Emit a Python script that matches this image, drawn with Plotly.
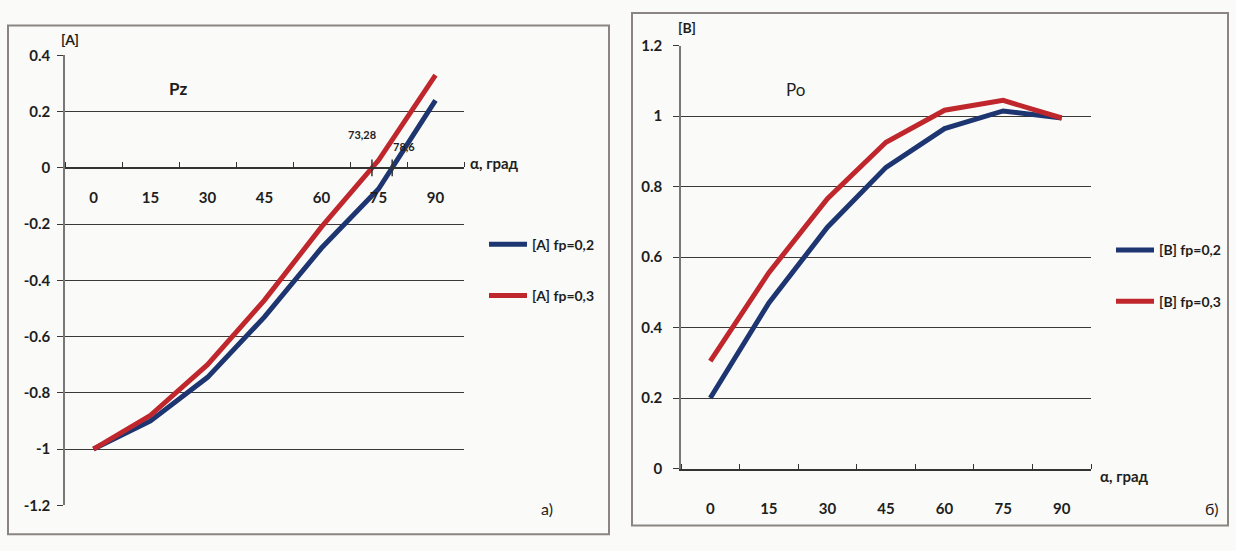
import plotly.graph_objects as go

W, H = 1236, 551

# ---------------- data ----------------
angles = [0, 15, 30, 45, 60, 75, 90]
angle_labels = ["0", "15", "30", "45", "60", "75", "90"]

pz_fp02 = [-1.0, -0.90, -0.745, -0.53, -0.285, -0.075, 0.24]
pz_fp03 = [-1.0, -0.88, -0.70, -0.47, -0.21, 0.027, 0.33]

po_fp02 = [0.20, 0.47, 0.685, 0.855, 0.965, 1.015, 0.995]
po_fp03 = [0.305, 0.556, 0.766, 0.926, 1.017, 1.045, 0.995]

zero_cross = [73.28, 78.6]
zero_cross_labels = ["73,28", "78,6"]

pz_yticks = [-1.2, -1.0, -0.8, -0.6, -0.4, -0.2, 0, 0.2, 0.4]
pz_ytext = ["-1.2", "-1", "-0.8", "-0.6", "-0.4", "-0.2", "0", "0.2", "0.4"]
po_yticks = [0, 0.2, 0.4, 0.6, 0.8, 1.0, 1.2]
po_ytext = ["0", "0.2", "0.4", "0.6", "0.8", "1", "1.2"]

# ---------------- helpers ----------------
def px(x):
    return x / W

def py(y):
    return 1 - y / H

FONT = "Lato, Liberation Sans, sans-serif"
TXT = "#1e1e1e"
BLUE = "#1d3570"
RED = "#c0272d"
GRID = "#3b3835"

# left panel geometry
L_x = [px(65), px(464)]
L_y = [py(512), py(47)]
L_yr = [-1.2, 0.4]
zero_pos = L_y[0] + (0 - L_yr[0]) / (L_yr[1] - L_yr[0]) * (L_y[1] - L_y[0])

# right panel geometry
R_x = [px(681), px(1091)]
R_y = [py(474), py(37)]

fig = go.Figure()

fig.add_trace(go.Scatter(x=angles, y=pz_fp02, mode="lines", name="[A] fp=0,2",
                         line=dict(color=BLUE, width=5), xaxis="x", yaxis="y",
                         legend="legend", legendgroup="a1"))
fig.add_trace(go.Scatter(x=angles, y=pz_fp03, mode="lines", name="[A] fp=0,3",
                         line=dict(color=RED, width=5), xaxis="x", yaxis="y",
                         legend="legend", legendgroup="a2"))
fig.add_trace(go.Scatter(x=zero_cross, y=[0] * len(zero_cross), mode="markers",
                         marker=dict(symbol="line-ns", size=12,
                                     line=dict(color="#333", width=1.5)),
                         showlegend=False, xaxis="x", yaxis="y", hoverinfo="skip"))

fig.add_trace(go.Scatter(x=angles, y=po_fp02, mode="lines", name="[B] fp=0,2",
                         line=dict(color=BLUE, width=5), xaxis="x2", yaxis="y2",
                         legend="legend2", legendgroup="b1"))
fig.add_trace(go.Scatter(x=angles, y=po_fp03, mode="lines", name="[B] fp=0,3",
                         line=dict(color=RED, width=5), xaxis="x2", yaxis="y2",
                         legend="legend2", legendgroup="b2"))

tickfont = dict(family=FONT, size=15, color=TXT, weight="bold")

common_x = dict(range=[-7.5, 97.5], tickmode="array", tickvals=angles,
                ticktext=angle_labels, ticks="", showgrid=False, zeroline=False,
                showline=True, linecolor="#333", linewidth=1.5, tickfont=tickfont,
                minor=dict(tick0=-7.5, dtick=15, ticks="inside", ticklen=5,
                           tickcolor="#333", tickwidth=1.2, showgrid=False))

fig.update_layout(
    width=W, height=H,
    margin=dict(l=0, r=0, t=0, b=0),
    paper_bgcolor="#fafaf8", plot_bgcolor="rgba(0,0,0,0)",
    font=dict(family=FONT, color=TXT),
    xaxis=dict(domain=L_x, anchor="free", position=zero_pos,
               ticklabelstandoff=16, **common_x),
    yaxis=dict(domain=L_y, range=L_yr, anchor="x", tickmode="array",
               tickvals=pz_yticks, ticktext=pz_ytext, showgrid=True,
               gridcolor=GRID, gridwidth=1.3, zeroline=False, showline=True,
               linecolor="#777", linewidth=1.5, ticks="outside", ticklen=6,
               tickcolor=GRID, tickfont=tickfont, ticklabelstandoff=4),
    xaxis2=dict(domain=R_x, anchor="y2", ticklabelstandoff=26, **common_x),
    yaxis2=dict(domain=R_y, range=[0, 1.2], anchor="x2", tickmode="array",
                tickvals=po_yticks, ticktext=po_ytext, showgrid=True,
                gridcolor=GRID, gridwidth=1.3, zeroline=False, showline=True,
                linecolor="#777", linewidth=1.5, ticks="outside", ticklen=6,
                tickcolor=GRID, tickfont=tickfont, ticklabelstandoff=8),
    legend=dict(x=px(484), y=py(226), xanchor="left", yanchor="top",
                bgcolor="rgba(0,0,0,0)", tracegroupgap=30,
                font=dict(family=FONT, size=14, color=TXT, weight="bold"),
                itemwidth=38),
    legend2=dict(x=px(1111), y=py(232), xanchor="left", yanchor="top",
                 bgcolor="rgba(0,0,0,0)", tracegroupgap=30,
                 font=dict(family=FONT, size=14, color=TXT, weight="bold"),
                 itemwidth=38),
    showlegend=True,
)

# frames around both panels
fig.add_shape(type="rect", xref="paper", yref="paper",
              x0=px(8), y0=py(542), x1=px(609), y1=py(16),
              line=dict(color="#8a8580", width=2))
fig.add_shape(type="rect", xref="paper", yref="paper",
              x0=px(632), y0=py(533), x1=px(1228), y1=py(3),
              line=dict(color="#8a8580", width=2))

def ann(text, x, y, size=15, xanchor="center", weight="bold", **kw):
    fig.add_annotation(text=text, x=px(x), y=py(y), xref="paper", yref="paper",
                       showarrow=False, xanchor=xanchor, yanchor="middle",
                       font=dict(family=FONT, size=size, color=TXT, weight=weight),
                       **kw)

ann("[A]", 70, 30, 14)
ann("Pz", 178, 81, 17)
ann("α, град", 468, 158, 15, xanchor="left")
ann("a)", 547, 515, 16, weight="normal")

ann("[B]", 687, 18, 14)
ann("Po", 795, 82, 17, weight="normal")
ann("α, град", 1098, 482, 15, xanchor="left")
ann("б)", 1212, 515, 16, weight="normal")

for xv, lab, xs, ys in zip(zero_cross, zero_cross_labels, [-10, 12], [33, 21]):
    fig.add_annotation(text=lab, x=xv, y=0, xref="x", yref="y", showarrow=False,
                       xshift=xs, yshift=ys,
                       font=dict(family=FONT, size=11, color=TXT, weight="bold"))

fig.write_html("out.html")
